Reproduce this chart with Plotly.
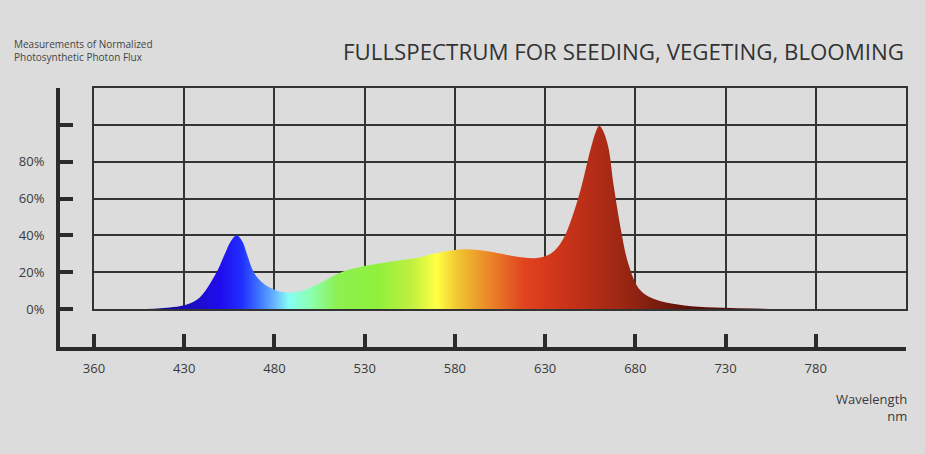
import plotly.graph_objects as go

# spectrum (nm, % of peak)
wavelength = [405, 415, 422, 430, 437, 441, 445, 449, 453, 456, 459, 462, 465, 468,
              471, 475, 480, 486, 494, 505, 517, 528, 540, 550, 560, 568, 578, 587,
              598, 606, 613, 624, 630, 635, 640, 645, 650, 655, 658, 660, 662, 665,
              668, 672, 676, 682, 689, 700, 715, 733, 755]
flux = [0, 0.3, 0.8, 2, 5, 9, 15, 22, 31, 37, 40, 37, 29, 21,
        16.5, 13, 10.5, 9, 9.5, 14, 20, 23, 25, 26.5, 28, 30, 31.8, 32.4,
        31.4, 30, 28.6, 27.6, 28.6, 31.5, 38, 50, 66, 86, 96, 99.5, 97, 88,
        67, 43, 25, 11, 6, 3, 1.2, 0.5, 0]

# colour of the fill along the wavelength axis
stop_nm = [410, 430, 450, 462, 472, 480, 488, 500, 515, 537, 556, 570, 582,
           598, 618, 630, 648, 670, 690, 710, 760]
stop_colors = ["#170a8a", "#1a0cb8", "#1f0cef", "#2030ff", "#4078ff", "#68b4ff",
               "#84fff4", "#8cffb0", "#8cf050", "#8ff03c", "#c0f040", "#ffff44",
               "#f0c430", "#eb8a28", "#e0441f", "#d8391c", "#c03018", "#a02814",
               "#7e1e0e", "#5c1008", "#3c0a04"]

grid_x = [380, 430, 480, 530, 580, 630, 680, 730, 780, 830]
x_labels = ["360", "430", "480", "530", "580", "630", "680", "730", "780", ""]
grid_y = [0, 20, 40, 60, 80, 100, 120]
y_labels = ["0%", "20%", "40%", "60%", "80%", "", ""]

# pixel layout of the picture
W, H = 925, 454
L, R, T, B = 60, 906, 88, 347        # outer axis frame
GL, GB = 94, 309                      # grid box left / bottom

dx = (GL - L) / (R - L)
dy = (B - GB) / (B - T)
x_lo = 380 - (830 - 380) * dx / (1 - dx)
y_lo = 0 - 120 * dy / (1 - dy)

span = stop_nm[-1] - stop_nm[0]
colorscale = [[(n - stop_nm[0]) / span, c] for n, c in zip(stop_nm, stop_colors)]

fig = go.Figure()
fig.add_trace(go.Scatter(
    x=wavelength, y=flux, xaxis="x2", yaxis="y2",
    mode="lines", line=dict(width=0, shape="spline", smoothing=1),
    fill="tozeroy",
    fillgradient=dict(type="horizontal", colorscale=colorscale,
                      start=stop_nm[0], stop=stop_nm[-1]),
    hoverinfo="skip", showlegend=False,
))
# empty trace so the outer L-shaped axes get drawn
fig.add_trace(go.Scatter(x=[None], y=[None], mode="lines",
                         hoverinfo="skip", showlegend=False))

dark = "#2b2b2b"
axis_font = dict(family="Open Sans", size=13, color="#3a3a3a")

fig.update_layout(
    width=W, height=H,
    margin=dict(l=L, r=W - R, t=T, b=H - B),
    paper_bgcolor="#dcdcdc", plot_bgcolor="rgba(0,0,0,0)",
    xaxis=dict(range=[x_lo, 830], tickvals=grid_x, ticktext=x_labels,
               ticks="inside", ticklen=13, tickwidth=4, tickcolor=dark,
               showline=True, linewidth=4, linecolor=dark,
               showgrid=False, zeroline=False, tickfont=axis_font,
               ticklabelstandoff=6, fixedrange=True),
    yaxis=dict(range=[y_lo, 120], tickvals=grid_y, ticktext=y_labels,
               ticks="inside", ticklen=13, tickwidth=4, tickcolor=dark,
               showline=True, linewidth=4, linecolor=dark,
               showgrid=False, zeroline=False, tickfont=axis_font,
               ticklabelstandoff=9, fixedrange=True),
    xaxis2=dict(domain=[dx, 1], range=[380, 830], anchor="y2", tickvals=grid_x,
                showgrid=True, gridcolor="#333333", gridwidth=2,
                showline=True, mirror=True, linecolor="#333333", linewidth=2,
                showticklabels=False, ticks="", zeroline=False, fixedrange=True),
    yaxis2=dict(domain=[dy, 1], range=[0, 120], anchor="x2", tickvals=grid_y,
                showgrid=True, gridcolor="#333333", gridwidth=2,
                showline=True, mirror=True, linecolor="#333333", linewidth=2,
                showticklabels=False, ticks="", zeroline=False, fixedrange=True),
)


def px_x(p):
    return (p - L) / (R - L)


def px_y(p):
    return (B - p) / (B - T)


fig.add_annotation(x=px_x(906), y=px_y(51), xref="paper", yref="paper",
                   xanchor="right", yanchor="middle", showarrow=False,
                   text="FULLSPECTRUM FOR SEEDING, VEGETING, BLOOMING",
                   font=dict(family="Open Sans", size=22.3, color="#333333"))
fig.add_annotation(x=px_x(12), y=px_y(50), xref="paper", yref="paper",
                   xanchor="left", yanchor="middle", align="left", showarrow=False,
                   text="Measurements of Normalized<br>Photosynthetic Photon Flux",
                   font=dict(family="Open Sans", size=10, color="#444444"))
fig.add_annotation(x=px_x(909), y=px_y(407), xref="paper", yref="paper",
                   xanchor="right", yanchor="middle", align="right", showarrow=False,
                   text="Wavelength<br>nm",
                   font=dict(family="Open Sans", size=13, color="#3a3a3a"))

fig.write_html("out.html",
               config={"displayModeBar": False},
               post_script="document.body.style.margin='0';"
                           "document.body.style.overflow='hidden';"
                           "document.body.style.background='#dcdcdc';")
